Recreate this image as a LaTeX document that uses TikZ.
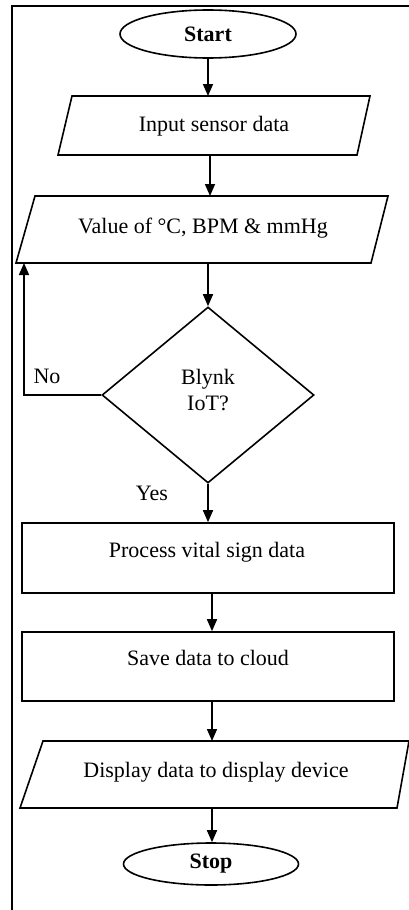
\documentclass[tikz,border=0pt]{standalone}
\usepackage{fontspec}
\setmainfont{Liberation Serif}
\usetikzlibrary{shapes.geometric,arrows.meta}
\begin{document}
\begin{tikzpicture}[x=1pt,y=-1pt,
  outline/.style={draw=black,line width=1.6pt},
  lbl/.style={font=\fontsize{22}{26}\selectfont, inner sep=0pt},
  term/.style={ellipse,outline,inner sep=0pt,font=\fontsize{22}{26}\selectfont\bfseries},
  box/.style={rectangle,outline,inner sep=0pt},
  flow/.style={line width=1.6pt,-{Triangle[width=10pt,length=12pt]}}]
\useasboundingbox (0,0) rectangle (409,910);
% frame
\draw[line width=2.6pt] (12,910) -- (12,6) -- (409,6);

% Start
\node[term,minimum width=176pt,minimum height=48pt] (start) at (208,34) {Start};

% Input sensor data
\draw[outline] (72,96) -- (370,96) -- (357,155) -- (58,155) -- cycle;
\node[lbl] (input) at (214,126) {Input sensor data};
\coordinate (inputT) at (208,96);
\coordinate (inputB) at (210,155);

% Value
\draw[outline] (35,196) -- (388,196) -- (371,263) -- (16,263) -- cycle;
\node[lbl] (value) at (203,228) {Value of °C, BPM \& mmHg};
\coordinate (valueT) at (210,196);
\coordinate (valueB) at (208,263);
\coordinate (noT) at (24,263);

% Decision
\node[diamond,outline,inner sep=0pt,minimum width=212pt,minimum height=176pt,aspect=1.2] (dec) at (208,395) {};
\node[lbl,align=center] (decl) at (208,390) {Blynk\\IoT?};
\node[lbl] (nolbl) at (47,376) {No};
\node[lbl] (yeslbl) at (152,493) {Yes};

% Process
\node[box,minimum width=372pt,minimum height=70pt] (proc) at (208,558) {};
\node[lbl] (procl) at (207,552) {Process vital sign data};

% Save
\node[box,minimum width=372pt,minimum height=69pt] (save) at (208,666.5) {};
\node[lbl] (savel) at (208,658) {Save data to cloud};

% Display
\draw[outline] (43,741) -- (409,741) -- (397,808) -- (20,808) -- cycle;
\node[lbl] (disp) at (216,772) {Display data to display device};
\coordinate (dispT) at (212,741);
\coordinate (dispB) at (212,808);

% Stop
\node[term,minimum width=175pt,minimum height=42pt] (stop) at (211,864) {Stop};

% connectors
\draw[flow] (start.south) -- (inputT);
\draw[flow] (inputB) -- (valueT);
\draw[flow] (valueB) -- (dec.north);
\draw[flow] (dec.west) -| (noT);
\draw[flow] (dec.south) -- (proc.north);
\draw[flow] ([xshift=4pt]proc.south) -- ([xshift=4pt]save.north);
\draw[flow] ([xshift=4pt]save.south) -- (dispT);
\draw[flow] (dispB) -- (stop.north -| dispB);
\end{tikzpicture}
\end{document}
